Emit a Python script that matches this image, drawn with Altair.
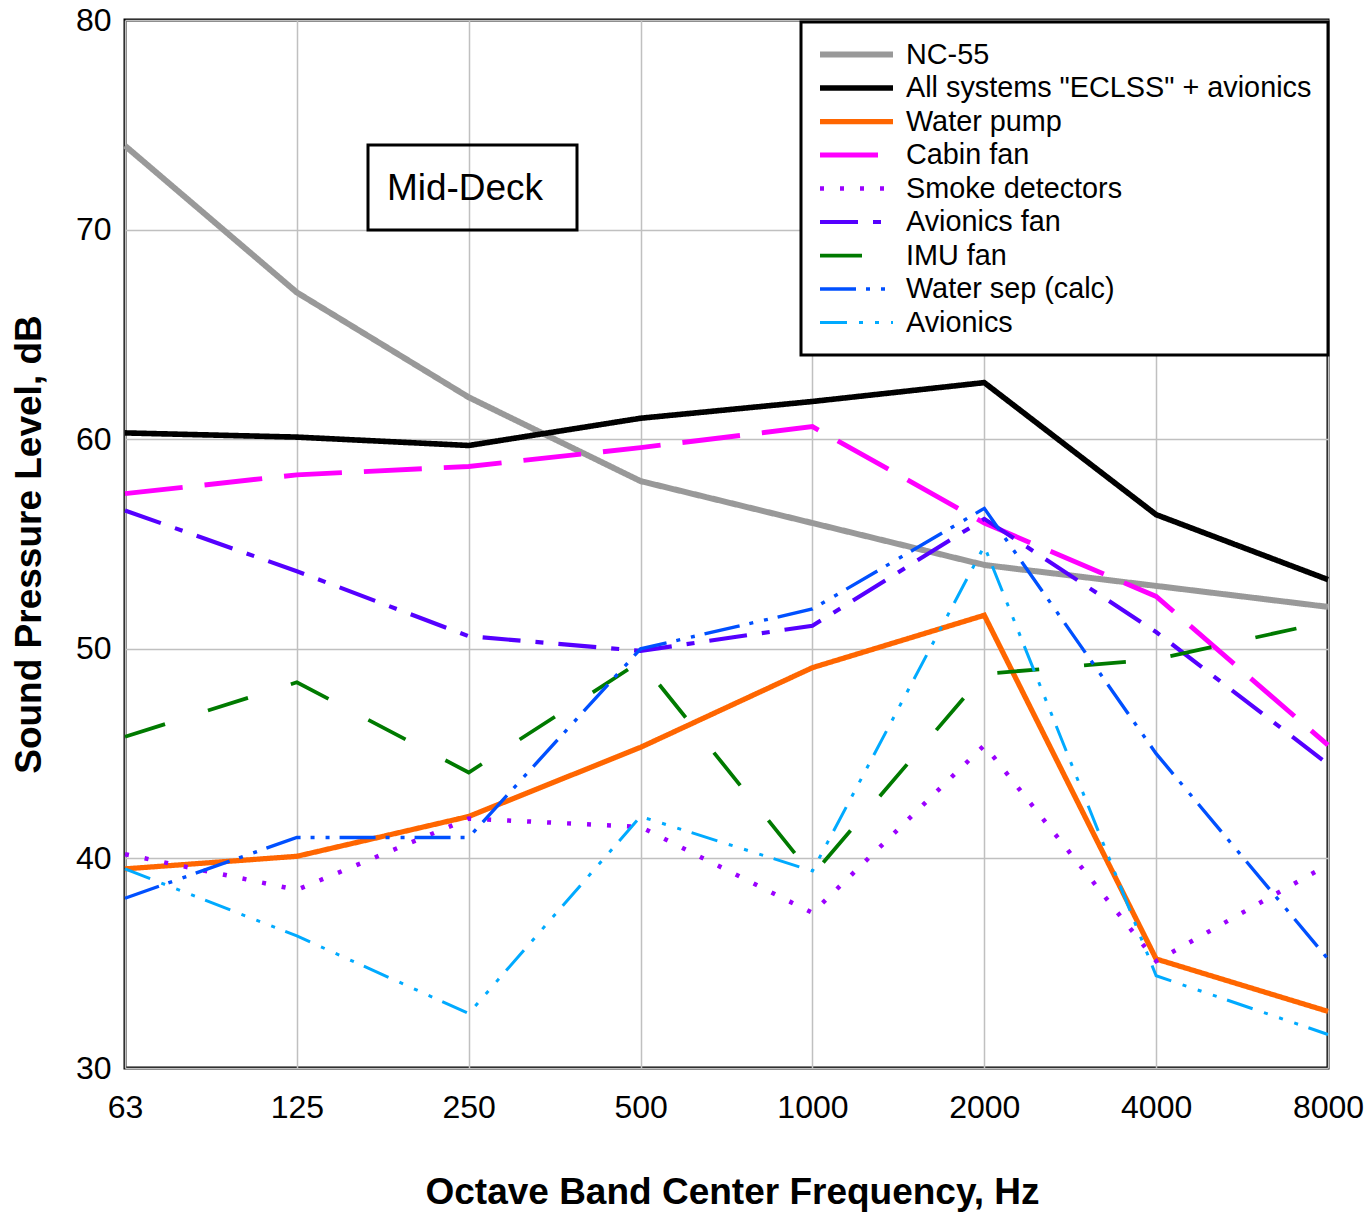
import json

import altair as alt
import pandas as pd

# Octave band centre frequencies (x axis categories)
freq_labels = ["63", "125", "250", "500", "1000", "2000", "4000", "8000"]

series_names = [
    "NC-55",
    'All systems "ECLSS" + avionics',
    "Water pump",
    "Cabin fan",
    "Smoke detectors",
    "Avionics fan",
    "IMU fan",
    "Water sep (calc)",
    "Avionics",
]

# Sound pressure level per octave band, dB
nc55 = [74.0, 67.0, 62.0, 58.0, 56.0, 54.0, 53.0, 52.0]
all_systems = [60.3, 60.1, 59.7, 61.0, 61.8, 62.7, 56.4, 53.3]
water_pump = [39.5, 40.1, 42.0, 45.3, 49.1, 51.6, 35.2, 32.7]
cabin_fan = [57.4, 58.3, 58.7, 59.6, 60.6, 56.0, 52.5, 45.4]
smoke_detectors = [40.2, 38.5, 41.9, 41.5, 37.4, 45.4, 35.1, 39.7]
avionics_fan = [56.6, 53.7, 50.6, 49.9, 51.1, 56.2, 50.8, 44.5]
imu_fan = [45.8, 48.4, 44.1, 49.4, 39.2, 48.8, 49.5, 51.3]
water_sep = [38.1, 41.0, 41.0, 50.0, 51.9, 56.7, 45.0, 35.2]
avionics = [39.5, 36.3, 32.6, 42.0, 39.4, 54.9, 34.4, 31.6]

series_values = [
    nc55, all_systems, water_pump, cabin_fan, smoke_detectors,
    avionics_fan, imu_fan, water_sep, avionics,
]

series_colors = [
    "#999999", "#000000", "#FF6600", "#FF00FF", "#9B00FF",
    "#5500FF", "#007A00", "#0050FF", "#00AAFF",
]
series_dashes = [
    [1, 0], [1, 0], [1, 0], [58, 22], [4, 16],
    [38, 15, 8, 15], [42, 45], [36, 10, 4, 11, 4, 10],
    [27, 12, 4, 12, 4, 12, 4, 11],
]
series_widths = [6, 3, 3.6, 3.8, 3.8, 3.8, 3.8, 3.8, 3.8]

rows = []
for name, values in zip(series_names, series_values):
    for i, v in enumerate(values):
        rows.append({"series": name, "band": i, "spl": v})
df = pd.DataFrame(rows)

FONT = "Liberation Sans"
PLOT_W, PLOT_H = 1203, 1048

label_expr = f"{json.dumps(freq_labels)}[datum.value]"

legend = alt.Legend(
    title=None,
    orient="none",
    legendX=676,
    legendY=2,
    symbolType="stroke",
    symbolSize=73 * 73,
    labelFontSize=28.8,
    labelFont=FONT,
    labelColor="black",
    labelOffset=10,
    labelLimit=600,
    padding=16,
    rowPadding=0.5,
    clipHeight=33,
    fillColor="white",
    strokeColor="black",
)

lines = alt.Chart(df).mark_line(strokeCap="butt", strokeJoin="miter").encode(
    x=alt.X(
        "band:Q",
        scale=alt.Scale(domain=[0, len(freq_labels) - 1], nice=False, zero=False),
        axis=alt.Axis(
            values=list(range(len(freq_labels))),
            labelExpr=label_expr,
            labelFlush=False,
            labelOverlap=False,
            title="Octave Band Center Frequency, Hz",
            titleX=607,
            titleY=124,
            titleBaseline="middle",
            labelPadding=24,
        ),
    ),
    y=alt.Y(
        "spl:Q",
        scale=alt.Scale(domain=[30, 80], nice=False, zero=False),
        axis=alt.Axis(
            values=[30, 40, 50, 60, 70, 80],
            labelFlush=False,
            title="Sound Pressure Level, dB",
            titleX=-96,
            titleBaseline="middle",
            labelPadding=14,
        ),
    ),
    color=alt.Color(
        "series:N",
        scale=alt.Scale(domain=series_names, range=series_colors),
        legend=legend,
        sort=series_names,
    ),
    strokeDash=alt.StrokeDash(
        "series:N",
        scale=alt.Scale(domain=series_names, range=series_dashes),
        legend=legend,
        sort=series_names,
    ),
    strokeWidth=alt.StrokeWidth(
        "series:N",
        scale=alt.Scale(domain=series_names, range=series_widths),
        legend=legend,
        sort=series_names,
    ),
)

# Annotation box with the module name
box = alt.Chart(pd.DataFrame({"k": [0]})).mark_rect(
    fillOpacity=0, stroke="black", strokeWidth=3
).encode(
    x=alt.value(243), x2=alt.value(452), y=alt.value(125), y2=alt.value(210)
)
box_text = alt.Chart(pd.DataFrame({"label": ["Mid-Deck"]})).mark_text(
    font=FONT, fontSize=37, color="black", align="center", baseline="middle"
).encode(text="label:N", x=alt.value(340), y=alt.value(169))

chart = (
    alt.layer(lines, box, box_text)
    .properties(
        width=PLOT_W,
        height=PLOT_H,
        autosize=alt.AutoSizeParams(type="none"),
        padding={"left": 125, "top": 20, "right": 42, "bottom": 145},
        background="white",
    )
    .configure_view(stroke="black", strokeWidth=3)
    .configure_legend(strokeWidth=3)
    .configure_axis(
        grid=True,
        gridColor="#C0C0C0",
        gridWidth=1.5,
        domain=False,
        ticks=False,
        labelFont=FONT,
        labelFontSize=32,
        labelColor="black",
        titleFont=FONT,
        titleFontSize=37,
        titleFontWeight="bold",
        titleColor="black",
    )
)

chart.save("out.html", embed_options={"renderer": "svg", "actions": False})
